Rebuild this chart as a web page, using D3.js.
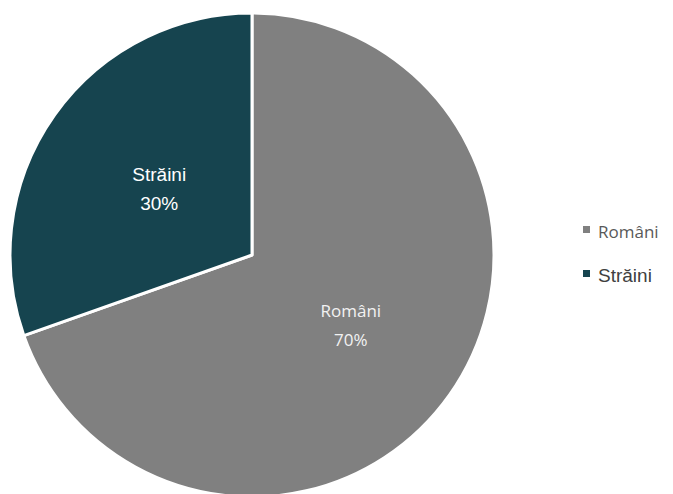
<!DOCTYPE html>
<html><head><meta charset="utf-8">
<script src="https://cdn.jsdelivr.net/npm/d3@7"></script>
<style>body{margin:0;background:#fff}</style>
</head><body>
<svg id="c" width="673" height="494"></svg>
<script>
const categories = ["Români", "Străini"];
const values = [69.6, 30.4];
const colors = ["#808080", "#16444f"];

const svg = d3.select("#c");
const cx = 252, cy = 255, r = 242;
const pie = d3.pie().sort(null).value(d => d.v);
const arcs = pie(categories.map((c,i)=>({c, v: values[i], i})));
const arc = d3.arc().innerRadius(0).outerRadius(r);
const g = svg.append("g").attr("transform", `translate(${cx},${cy})`);
g.selectAll("path").data(arcs).enter().append("path")
  .attr("d", arc).attr("fill", d => colors[d.data.i])
  .attr("stroke", "#fff").attr("stroke-width", 3).attr("stroke-linejoin","round");

const labelFonts = [
  {family: "'Open Sans', Lato, sans-serif", size: 17, fill: "#f2f2f2"},
  {family: "'Liberation Sans', Arial, sans-serif", size: 19, fill: "#ffffff"}
];
const labelArc = d3.arc().innerRadius(r*0.0).outerRadius(r*0.98);
arcs.forEach(d => {
  const [x, y] = labelArc.centroid(d);
  const f = labelFonts[d.data.i];
  const dx = d.data.i ? 4 : 2;
  const t = g.append("text").attr("text-anchor","middle")
    .attr("font-family", f.family).attr("font-size", f.size).attr("fill", f.fill);
  t.append("tspan").attr("x", x + dx).attr("y", y - 6).text(d.data.c);
  t.append("tspan").attr("x", x + dx).attr("y", y + 23).text(Math.round(d.data.v) + "%");
});

const legend = svg.append("g");
categories.forEach((c, i) => {
  const y = [232, 275][i];
  const f = labelFonts[i];
  legend.append("rect").attr("x", 583).attr("y", y - 6 + (i?1:0)).attr("width", 7).attr("height", 7).attr("fill", colors[i]);
  legend.append("text").attr("x", 598).attr("y", y).attr("dy", "0.35em")
    .attr("font-family", f.family).attr("font-size", f.size)
    .attr("fill", i ? "#404040" : "#595959").text(c);
});
</script>
</body></html>
